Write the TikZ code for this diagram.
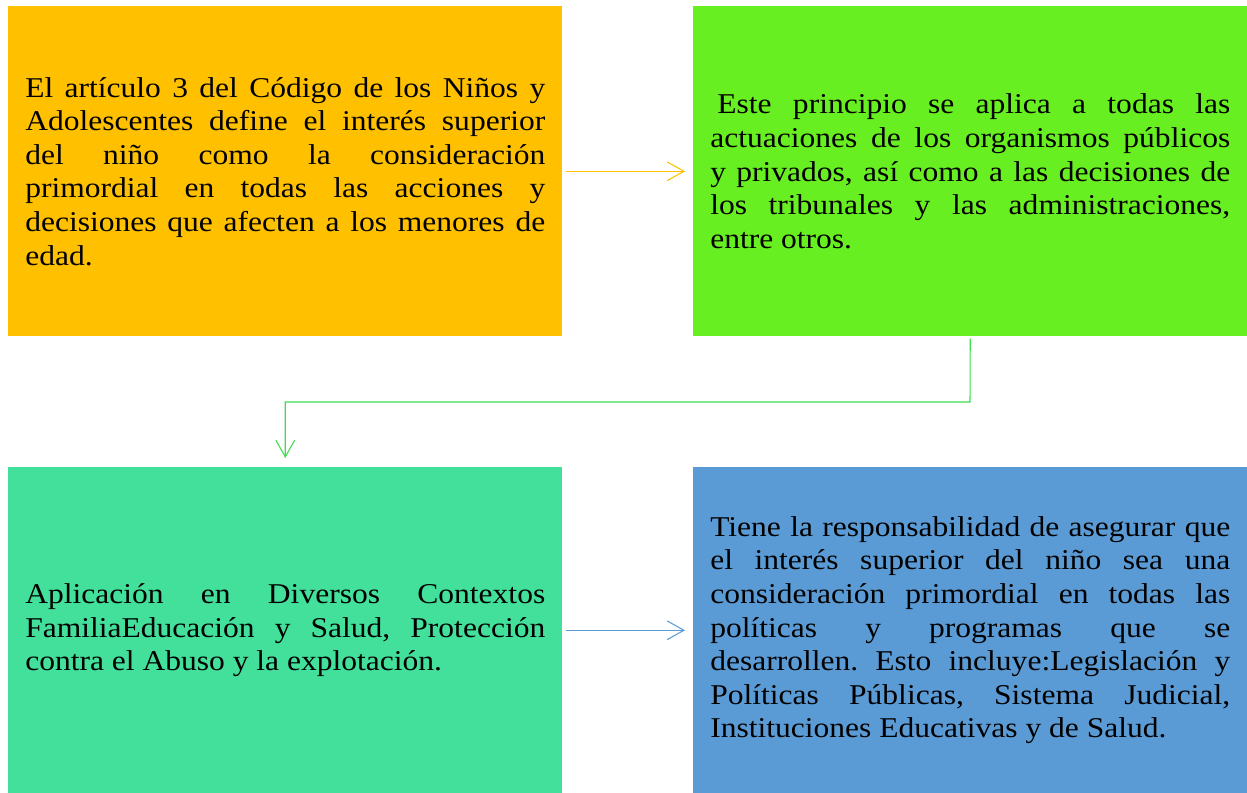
\documentclass[tikz,border=0pt]{standalone}
\usepackage{fontspec}
\setmainfont{Liberation Serif}[FakeStretch=1.1]
\usetikzlibrary{arrows.meta}
\definecolor{naranja}{RGB}{255,192,0}
\definecolor{verdeclaro}{RGB}{104,239,34}
\definecolor{verdeagua}{RGB}{66,224,155}
\definecolor{azul}{RGB}{91,155,213}
\definecolor{verdelinea}{RGB}{60,222,80}
\frenchspacing

\begin{document}
\begin{tikzpicture}[x=0.75pt,y=-0.75pt,
	caja/.style={anchor=north west,minimum width=415.5pt,text width=390pt,inner xsep=12.75pt,
		align=justify,font=\fontsize{21.5pt}{25.2pt}\selectfont},
	flecha/.style={line width=0.8pt,-{Straight Barb[length=12.5pt,width=14pt,line width=0.8pt]}}]
	\useasboundingbox (0,0) rectangle (1247,793);
	\node[caja,fill=naranja,minimum height=247.5pt] (art3) at (8,6)
		{El artículo 3 del Código de los Niños y\linebreak Adolescentes define el interés superior\linebreak del niño como la consideración\linebreak primordial en todas las acciones y\linebreak decisiones que afecten a los menores de\linebreak edad.};
	\node[caja,fill=verdeclaro,minimum height=247.5pt] (principio) at (693,6)
		{\hspace*{0.25em}Este principio se aplica a todas las\linebreak actuaciones de los organismos públicos\linebreak y privados, así como a las decisiones de\linebreak los tribunales y las administraciones,\linebreak entre otros.};
	\node[caja,fill=verdeagua,minimum height=244.5pt] (aplicacion) at (8,467)
		{Aplicación en Diversos Contextos\linebreak FamiliaEducación y Salud, Protección\linebreak contra el Abuso y la explotación.};
	\node[caja,fill=azul,minimum height=244.5pt] (responsabilidad) at (693,467)
		{Tiene la responsabilidad de asegurar que\linebreak el interés superior del niño sea una\linebreak consideración primordial en todas las\linebreak políticas y programas que se\linebreak desarrollen. Esto incluye:Legislación y\linebreak Políticas Públicas, Sistema Judicial,\linebreak Instituciones Educativas y de Salud.};

	\draw[flecha,naranja,shorten <=2.25pt,shorten >=6pt] (art3.east) -- (principio.west);
	\coordinate (codo) at (970,402);
	\draw[flecha,verdelinea,shorten <=1.5pt,shorten >=6.75pt] (principio.south) -- (codo) -| (aplicacion.north);
	\draw[flecha,azul,shorten <=2.25pt,shorten >=6pt] (aplicacion.east) -- (responsabilidad.west);
\end{tikzpicture}
\end{document}
